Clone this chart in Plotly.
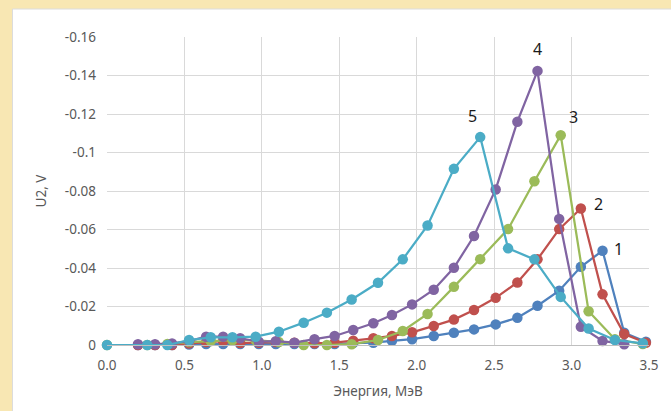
import plotly.graph_objects as go

# Energy grids (MeV)
energy_a = [0.20, 0.31, 0.42, 0.53, 0.64, 0.75, 0.86, 0.98, 1.09, 1.21, 1.34, 1.47, 1.59,
            1.72, 1.84, 1.97, 2.11, 2.24, 2.37, 2.51, 2.65, 2.78, 2.92, 3.06, 3.20, 3.34, 3.48]
energy_b = [0.0, 0.26, 0.39, 0.53, 0.67, 0.81, 0.96, 1.11, 1.27, 1.42, 1.58, 1.75, 1.91,
            2.07, 2.24, 2.41, 2.59, 2.76, 2.93, 3.11, 3.28, 3.46]

# Signal amplitude U2 (V)
u2_1 = [0, 0, 0, -0.0003, -0.0005, -0.0005, -0.0005, -0.0005, -0.0005, -0.0005, -0.0005,
        -0.0005, -0.001, -0.0012, -0.0022, -0.003, -0.0047, -0.0064, -0.0081, -0.0107,
        -0.0142, -0.0204, -0.0282, -0.0406, -0.049, -0.0064, -0.0017]
u2_2 = [0, 0, 0, -0.0008, -0.0015, -0.002, -0.001, -0.0012, -0.0015, -0.0012, -0.0009,
        -0.0012, -0.0022, -0.0035, -0.0047, -0.0066, -0.0099, -0.0132, -0.0182, -0.0245,
        -0.0325, -0.0445, -0.0602, -0.0709, -0.0263, -0.0057, -0.0012]
u2_3 = [0, 0, -0.0005, -0.0015, -0.002, -0.0025, -0.0025, -0.0015, 0, 0, -0.0004,
        -0.0026, -0.0073, -0.0161, -0.0302, -0.0446, -0.0602, -0.0851, -0.109, -0.0175,
        -0.003, -0.0005]
u2_4 = [-0.0004, -0.0004, -0.0008, -0.002, -0.0043, -0.0043, -0.0035, -0.0017, -0.002,
        -0.0012, -0.003, -0.0047, -0.0078, -0.0113, -0.0156, -0.0211, -0.0287, -0.0401,
        -0.0566, -0.0808, -0.116, -0.1424, -0.0655, -0.0095, -0.0021, -0.0004]
u2_5 = [0, 0, 0, -0.0026, -0.004, -0.004, -0.0043, -0.0069, -0.0116, -0.0168, -0.0236,
        -0.0323, -0.0445, -0.0621, -0.0915, -0.108, -0.0502, -0.0445, -0.025, -0.0086,
        -0.0026, -0.0009]

series_names = ["1", "2", "3", "4", "5"]
series_x = [energy_a, energy_a, energy_b, energy_a[:len(u2_4)], energy_b]
series_y = [u2_1, u2_2, u2_3, u2_4, u2_5]
colors = ["#4f81bd", "#c0504d", "#9bbb59", "#8064a2", "#4bacc6"]
# label offsets (px) from each curve's peak
label_shift = [(16, 2), (18, 5), (13, 18), (0, 22), (-8, 21)]

y_ticks = [0, -0.02, -0.04, -0.06, -0.08, -0.1, -0.12, -0.14, -0.16]
y_tick_text = ["0", "-0.02", "-0.04", "-0.06", "-0.08", "-0.1", "-0.12", "-0.14", "-0.16"]
x_ticks = [0.0, 0.5, 1.0, 1.5, 2.0, 2.5, 3.0, 3.5]

font_family = "Noto Sans, Open Sans, sans-serif"
grey = "#595959"

fig = go.Figure()
for name, xs, ys, c in zip(series_names, series_x, series_y, colors):
    fig.add_trace(go.Scatter(
        x=xs, y=ys, name=name, mode="lines+markers",
        line=dict(color=c, width=2.25),
        marker=dict(color=c, size=10.5),
        cliponaxis=False,
        showlegend=False,
    ))

for name, xs, ys, (dx, dy) in zip(series_names, series_x, series_y, label_shift):
    i = min(range(len(ys)), key=lambda k: ys[k])
    fig.add_annotation(
        x=xs[i], y=ys[i], text=name, showarrow=False,
        xshift=dx, yshift=dy,
        font=dict(family=font_family, size=16, color="#1a1a1a"),
    )

# white chart panel over the parchment background
fig.add_shape(
    type="rect", xref="paper", yref="paper", layer="below",
    x0=-0.1743, x1=1.2, y0=-0.35, y1=1.0909,
    fillcolor="white", line=dict(color="#dcdcdc", width=1),
)

fig.update_layout(
    width=671, height=411,
    margin=dict(l=107, r=19, t=37, b=66),
    paper_bgcolor="#f8e7b3",
    plot_bgcolor="white",
    font=dict(family=font_family, size=13.5, color=grey),
    xaxis=dict(
        range=[0, 3.5], tickvals=x_ticks, tickformat=".1f",
        showgrid=True, gridcolor="#d9d9d9", gridwidth=1,
        zeroline=False, showline=True, linecolor="#bfbfbf", linewidth=1,
        ticks="", ticklabelstandoff=8, tickfont=dict(size=13.5, color=grey),
        title=dict(text="Энергия, МэВ", font=dict(size=13.5, color=grey), standoff=13),
    ),
    yaxis=dict(
        range=[0, -0.16], tickvals=y_ticks, ticktext=y_tick_text,
        showgrid=True, gridcolor="#d9d9d9", gridwidth=1,
        zeroline=False, showline=False, ticks="", ticklabelstandoff=10,
        tickfont=dict(size=13.5, color=grey),
        title=dict(text="U2, V", font=dict(size=13.5, color=grey), standoff=15),
    ),
)

fig.write_html("out.html")
